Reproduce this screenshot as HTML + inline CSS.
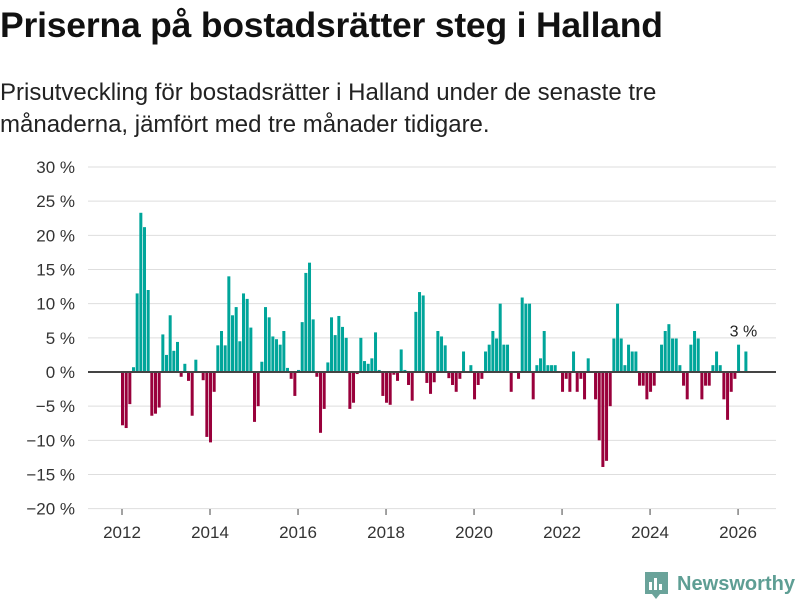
<!DOCTYPE html>
<html><head><meta charset="utf-8">
<style>
body{margin:0;width:800px;height:600px;background:#fff;font-family:"Liberation Sans",sans-serif;overflow:hidden;position:relative}
#title{position:absolute;left:0;top:5px;font-size:35.5px;font-weight:bold;color:#111;letter-spacing:-0.2px;white-space:nowrap}
#sub{position:absolute;left:0;top:77px;font-size:24px;line-height:32px;color:#222;white-space:nowrap}
svg{position:absolute;left:0;top:0}
</style></head><body>
<div id="title">Priserna på bostadsrätter steg i Halland</div>
<div id="sub">Prisutveckling för bostadsrätter i Halland under de senaste tre<br>månaderna, jämfört med tre månader tidigare.</div>
<svg id="chart" width="800" height="600"></svg>
<script>
const startYear = 2012;
const yTicks = [30,25,20,15,10,5,0,-5,-10,-15,-20];
const xTickYears = [2012,2014,2016,2018,2020,2022,2024,2026];
const values = [
-7.8,-8.2,-4.7,0.7,11.5,23.3,21.2,12,-6.4,-6.1,-5.2,5.5,
2.5,8.3,3.1,4.4,-0.7,1.2,-1.3,-6.4,1.8,0,-1.2,-9.5,
-10.3,-2.9,3.9,6,3.9,14,8.3,9.5,4.5,11.5,10.7,6.5,
-7.3,-5,1.5,9.5,8,5.2,4.8,4.0,6,0.6,-1,-3.5,
0.3,7.3,14.5,16,7.7,-0.7,-8.9,-5.4,1.4,8,5.4,8.2,
6.6,5,-5.4,-4.5,-0.3,5,1.6,1.2,2,5.8,0.3,-3.5,
-4.5,-4.8,-0.4,-1.3,3.3,0.3,-1.9,-4.2,8.8,11.7,11.2,-1.6,
-3.2,-1.5,6.0,5.2,3.9,-0.9,-1.9,-2.9,-1,3.0,0,1.0,
-4,-1.9,-1,3,4,6,4.9,10,4,4,-2.9,0,
-1,10.9,10,10,-4,1,2,6,1,1,1,0,
-2.9,-1,-2.9,3,-2.9,-1,-4,2,0,-4,-10,-13.9,
-13,-5,4.9,10,4.9,1,4,3,3,-2,-2,-4,
-2.9,-2,0,4,6,7,4.9,4.9,1,-2,-4,4,
6,4.9,-4,-2,-2,1,3,1,-4,-7,-2.9,-1,
4,0,3
];
const lastLabel = "3 %";
const svg=document.getElementById('chart');
const NS='http://www.w3.org/2000/svg';
const y0=372, pxPer=6.833;
function yS(v){return y0 - v*pxPer;}
function xS(m){return 122 + m*3.667;}
function mk(tag,attrs,parent){const e=document.createElementNS(NS,tag);for(const k in attrs)e.setAttribute(k,attrs[k]);(parent||svg).appendChild(e);return e;}
yTicks.forEach(t=>{
  const g=mk('line',{x1:88,x2:776,y1:yS(t),y2:yS(t),stroke:'#dedede','stroke-width':1});
  
  
  const tx=mk('text',{x:75,y:yS(t)+6,'text-anchor':'end','font-size':17,fill:'#333'});
  tx.textContent=(t<0?'\u2212'+(-t):t)+' %';
  
  
});
values.forEach((v,i)=>{
  if(v===0)return;
  const r=mk('rect',{x:xS(i)-1,y:Math.min(yS(v),y0),width:3,height:Math.abs(yS(v)-y0),fill:v>0?'#00a59a':'#99003b'});
  
  
});
const zl=mk('line',{x1:88,x2:776,y1:y0,y2:y0,stroke:'#444','stroke-width':2});


xTickYears.forEach(yr=>{
  const x=xS((yr-startYear)*12);
  const tk=mk('line',{x1:x,x2:x,y1:509,y2:515,stroke:'#444','stroke-width':1});
  
  
  const tx=mk('text',{x:x,y:538,'text-anchor':'middle','font-size':17,fill:'#333'});
  tx.textContent=yr;
  
  
});
const li=values.length-1;
const lb=mk('text',{x:xS(li)-2,y:yS(values[li])-15,'text-anchor':'middle','font-size':16,fill:'#222'});
lb.textContent=lastLabel;


// logo
const lg=mk('g',{});


mk('path',{d:'M645 572 h23 v22 h-8 l-4 5 l-4 -5 h-7 z',fill:'#6aa39a'},lg);
mk('rect',{x:649,y:582,width:3,height:8,fill:'#fff'},lg);
mk('rect',{x:654,y:578,width:3,height:12,fill:'#fff'},lg);
mk('rect',{x:659,y:584,width:3,height:6,fill:'#fff'},lg);
const lt=mk('text',{x:677,y:590,'font-size':20,'font-weight':'bold',fill:'#5e9e94',textLength:118,lengthAdjust:'spacingAndGlyphs'},lg);
lt.textContent='Newsworthy';
</script>
</body></html>
